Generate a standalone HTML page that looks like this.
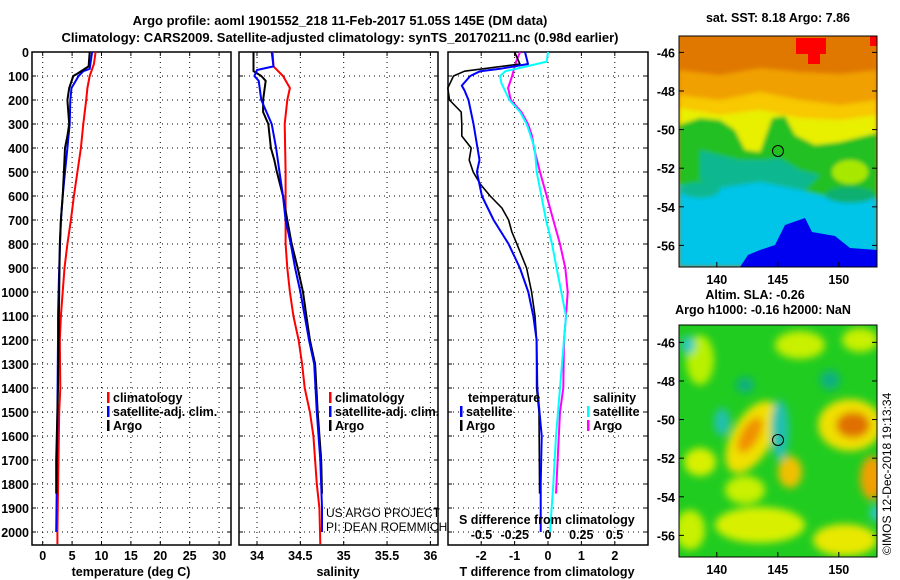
<!DOCTYPE html>
<html><head><meta charset="utf-8"><style>
body{margin:0;background:#fff}
svg{display:block;font-family:"Liberation Sans",Arial,sans-serif}
.b{font-weight:bold;font-size:13px}
.t{font-weight:bold;font-size:12.5px}
</style></head><body>
<svg id="s" width="900" height="580" viewBox="0 0 900 580">
<defs>
<filter id="bl" x="-10%" y="-10%" width="120%" height="120%"><feGaussianBlur stdDeviation="4"/></filter>
<filter id="bl2"><feGaussianBlur stdDeviation="2"/></filter>
<clipPath id="c1"><rect x="679" y="36" width="198" height="231"/></clipPath>
<clipPath id="c2"><rect x="679" y="325" width="198" height="232"/></clipPath>
</defs>
<text x="340" y="25" text-anchor="middle" class="b">Argo profile: aoml 1901552_218 11-Feb-2017 51.05S 145E (DM data)</text>
<text x="340" y="42" text-anchor="middle" class="b">Climatology: CARS2009. Satellite-adjusted climatology: synTS_20170211.nc (0.98d earlier)</text>

<!-- SST map -->
<g clip-path="url(#c1)">
<rect x="679" y="36" width="198" height="231" fill="#e07800"/>
<g filter="url(#bl2)">
<path d="M679,70 L720,75 L760,68 L800,72 L840,74 L877,70 L877,267 L679,267Z" fill="#f0a000"/>
<path d="M679,95 L720,100 L760,92 L800,100 L840,105 L877,100 L877,267 L679,267Z" fill="#f8c800"/>
<path d="M679,108 L720,115 L760,110 L800,118 L840,120 L877,115 L877,267 L679,267Z" fill="#e8f000"/>
<path d="M679,125 L700,118 L720,120 L735,130 L745,150 L760,152 L772,118 L785,116 L795,135 L815,145 L840,142 L877,133 L877,267 L679,267Z" fill="#20c020"/>
<ellipse cx="850" cy="172" rx="18" ry="12" fill="#a8e800"/>
<path d="M700,150 L740,160 L760,160 L780,158 L800,170 L820,175 L800,195 L740,195 L700,180Z" fill="#10b890"/>
<path d="M679,185 L720,188 L760,182 L800,190 L840,200 L877,198 L877,267 L679,267Z" fill="#00c4e8"/>
<ellipse cx="700" cy="190" rx="20" ry="8" fill="#10b890"/>
<ellipse cx="850" cy="195" rx="25" ry="8" fill="#10b070"/>
</g>
<path d="M740,267 L748,255 L760,250 L775,245 L785,225 L805,218 L812,232 L835,236 L850,248 L877,250 L877,267Z" fill="#0000f0"/>
<rect x="796" y="38" width="30" height="16" fill="#ff0000"/><rect x="808" y="50" width="12" height="14" fill="#ff0000"/><rect x="870" y="36" width="7" height="10" fill="#ff0000"/>
</g>
<rect x="679" y="36" width="198" height="231" fill="none" stroke="#000"/>
<circle cx="778" cy="151" r="5.5" fill="none" stroke="#000"/>
<text x="778" y="22" text-anchor="middle" class="t">sat. SST: 8.18 Argo: 7.86</text>

<!-- SLA map -->
<g clip-path="url(#c2)">
<rect x="679" y="325" width="198" height="232" fill="#20cc20"/>
<g filter="url(#bl)">
<ellipse cx="700" cy="360" rx="14" ry="25" fill="#b8f000"/>
<ellipse cx="800" cy="345" rx="25" ry="14" fill="#c8f000"/>
<ellipse cx="860" cy="340" rx="18" ry="12" fill="#c8f000"/>
<ellipse cx="752" cy="437" rx="20" ry="40" fill="#f0e000" transform="rotate(30 752 437)"/>
<ellipse cx="750" cy="435" rx="9" ry="20" fill="#f09000" transform="rotate(30 750 435)"/>
<ellipse cx="850" cy="425" rx="32" ry="26" fill="#f0e000"/>
<ellipse cx="853" cy="425" rx="17" ry="13" fill="#e07000"/>
<ellipse cx="780" cy="430" rx="9" ry="30" fill="#20c0b0"/>
<ellipse cx="722" cy="422" rx="8" ry="14" fill="#20c0b0"/>
<ellipse cx="688" cy="345" rx="7" ry="9" fill="#30c8c0"/>
<ellipse cx="745" cy="385" rx="9" ry="8" fill="#10b080"/>
<ellipse cx="830" cy="380" rx="10" ry="10" fill="#10b080"/>
<ellipse cx="700" cy="462" rx="16" ry="14" fill="#d8f000"/>
<ellipse cx="790" cy="472" rx="12" ry="16" fill="#f0c000"/>
<ellipse cx="872" cy="478" rx="12" ry="22" fill="#f0a000"/>
<ellipse cx="745" cy="490" rx="20" ry="14" fill="#c8f000"/>
<ellipse cx="760" cy="525" rx="45" ry="18" fill="#d8f000"/>
<ellipse cx="845" cy="540" rx="32" ry="16" fill="#e8e800"/>
<ellipse cx="690" cy="530" rx="15" ry="20" fill="#c8f000"/>
<ellipse cx="876" cy="513" rx="6" ry="8" fill="#30c8d0"/>
</g>
</g>
<rect x="679" y="325" width="198" height="232" fill="none" stroke="#000"/>
<circle cx="778" cy="440" r="5.5" fill="none" stroke="#000"/>
<text x="755" y="299" text-anchor="middle" class="t">Altim. SLA: -0.26</text>
<text x="763" y="314" text-anchor="middle" class="t">Argo h1000: -0.16 h2000: NaN</text>
<text transform="translate(891,555) rotate(-90)" font-size="12">©IMOS 12-Dec-2018 19:13:34</text>
<g id="g"></g>
</svg>
<script>
const depthTicks=[0,100,200,300,400,500,600,700,800,900,1000,1100,1200,1300,1400,1500,1600,1700,1800,1900,2000];
const tempTicks=[0,5,10,15,20,25,30];
const salTicks=[34,34.5,35,35.5,36];
const tdTicks=[-2,-1,0,1,2];
const sdTickLabels=["-0.5","-0.25","0","0.25","0.5"];
const sdTicks=[-0.5,-0.25,0,0.25,0.5];
const latTicks=[-46,-48,-50,-52,-54,-56];
const lonTicks=[140,145,150];
// temperature profiles [depth, value]
const tClimD=[0,50,100,150,200,300,400,500,600,700,800,900,1000,1100,1200,1400,1500,2000,2050];
const tClimV=[9.0,8.7,8.0,7.6,7.4,6.9,6.5,5.9,5.3,4.8,4.2,3.7,3.4,3.1,2.9,3.0,2.8,2.5,2.5];
const tSatD=[0,70,80,100,150,200,300,400,500,600,700,900,1100,1200,1500,1800,2000];
const tSatV=[8.4,8.0,6.9,6.1,4.9,4.7,4.6,4.2,3.8,3.4,3.1,2.8,2.6,2.6,2.5,2.4,2.3];
const tArgoD=[0,60,90,100,150,200,300,350,400,500,600,700,800,1000,1200,1400,1700,1840];
const tArgoV=[8.0,7.8,5.9,5.2,4.5,4.2,4.5,4.2,3.8,3.6,3.4,3.1,2.9,2.8,2.7,2.6,2.3,2.3];
// salinity profiles
const sClimD=[0,60,100,150,200,300,500,700,800,900,1000,1100,1200,1300,1400,1500,1600,1700,1800,1900,2050];
const sClimV=[34.18,34.19,34.30,34.38,34.35,34.32,34.33,34.33,34.33,34.35,34.38,34.42,34.48,34.52,34.55,34.61,34.65,34.67,34.69,34.72,34.73];
const sSatD=[0,60,75,100,120,200,300,400,500,600,700,800,900,1000,1100,1200,1300,1500,1700,1900,2000];
const sSatV=[34.17,34.19,34.0,33.97,34.02,34.05,34.17,34.22,34.26,34.30,34.33,34.39,34.44,34.50,34.55,34.60,34.66,34.69,34.73,34.75,34.75];
const sArgoD=[0,80,100,120,200,250,300,400,450,500,600,700,800,900,1000,1100,1200,1300,1500,1700,1840];
const sArgoV=[33.96,33.96,34.05,34.10,34.07,34.07,34.13,34.16,34.20,34.23,34.30,34.35,34.40,34.47,34.53,34.57,34.61,34.67,34.70,34.74,34.75];
// differences from climatology
const tdArgoD=[0,50,80,100,130,150,200,250,300,350,400,450,500,550,600,650,700,750,800,900,1000,1100,1200,1400,1500,1840];
const tdArgoV=[-1.0,-0.84,-2.5,-2.83,-2.93,-3.0,-2.95,-2.6,-2.58,-2.58,-2.3,-2.36,-2.24,-2.03,-1.73,-1.38,-1.18,-1.08,-0.93,-0.64,-0.49,-0.39,-0.34,-0.34,-0.27,-0.25];
const tdSatD=[0,50,70,80,100,140,160,200,300,400,450,500,600,700,800,900,1000,1100,1200,1400,1600,1800,2000];
const tdSatV=[-0.69,-0.6,-1.43,-2.03,-2.33,-2.58,-2.5,-2.38,-2.23,-2.11,-2.05,-2.13,-1.98,-1.63,-1.18,-0.84,-0.59,-0.44,-0.34,-0.32,-0.19,-0.22,-0.22];
const sdSatD=[0,40,60,80,100,130,200,250,300,400,500,600,700,800,900,1000,1100,1200,1400,1600,1800,2000];
const sdSatV=[0.0,-0.01,-0.16,-0.32,-0.36,-0.35,-0.29,-0.21,-0.16,-0.10,-0.085,-0.05,-0.015,0.03,0.065,0.10,0.135,0.12,0.09,0.06,0.04,0.015];
const sdArgoD=[0,40,100,150,200,250,300,350,400,500,600,700,800,900,1000,1100,1200,1400,1500,1840];
const sdArgoV=[-0.21,-0.24,-0.27,-0.30,-0.28,-0.20,-0.15,-0.12,-0.105,-0.06,-0.01,0.04,0.09,0.13,0.148,0.135,0.12,0.115,0.09,0.06];

const NS="http://www.w3.org/2000/svg";
const G=document.getElementById('g');
function el(tag,at,parent){const e=document.createElementNS(NS,tag);for(const k in at)e.setAttribute(k,at[k]);(parent||G).appendChild(e);return e;}
const Y0=52,Yb=545;
const yD=d=>Y0+d*0.24;
const xT=v=>42.7+v*5.88;
const xS=v=>257+(v-34)*86.7;
const xTD=v=>548+v*33.4;
const xSD=v=>548+v*133;
const panels=[[32,231],[239,438],[448,648]];
panels.forEach((p,i)=>{
  const r=el('rect',{x:p[0],y:Y0,width:p[1]-p[0],height:Yb-Y0,fill:'none',stroke:'#000','stroke-width':1.5});
  
  
  depthTicks.forEach(d=>{if(d>0){const l=el('line',{x1:p[0],x2:p[1],y1:yD(d),y2:yD(d),stroke:'#000','stroke-dasharray':'1,4'});}
    el('line',{x1:p[0],x2:p[0]+4,y1:yD(d),y2:yD(d),stroke:'#000'});el('line',{x1:p[1]-4,x2:p[1],y1:yD(d),y2:yD(d),stroke:'#000'});});
});
depthTicks.forEach(d=>{const t=el('text',{x:29,y:yD(d)+5,'text-anchor':'end',class:'t'});t.textContent=d;
  });
function xaxis(ticks,fx,p,labels){ticks.forEach((v,i)=>{const x=fx(v);
  const l=el('line',{x1:x,x2:x,y1:Y0,y2:Yb,stroke:'#000','stroke-dasharray':'1,4'});
  
  el('line',{x1:x,x2:x,y1:Yb-4,y2:Yb,stroke:'#000'});el('line',{x1:x,x2:x,y1:Y0,y2:Y0+4,stroke:'#000'});
  const t=el('text',{x:x,y:560,'text-anchor':'middle',class:'t'});t.textContent=labels?labels[i]:v;
  });}
xaxis(tempTicks,xT,panels[0]);xaxis(salTicks,xS,panels[1]);xaxis(tdTicks,xTD,panels[2]);
sdTicks.forEach((v,i)=>{const t=el('text',{x:xSD(v),y:539,'text-anchor':'middle',class:'t'});t.textContent=sdTickLabels[i];
  });
function line(D,V,fx,col,name,w){const pts=D.map((d,i)=>fx(V[i]).toFixed(1)+','+yD(d).toFixed(1)).join(' ');
  const p=el('polyline',{points:pts,fill:'none',stroke:col,'stroke-width':w||2,'stroke-linejoin':'round'});
  }
line(tClimD,tClimV,xT,'#f00','temp-climatology-line');
line(tSatD,tSatV,xT,'#00f','temp-satellite-line');
line(tArgoD,tArgoV,xT,'#000','temp-argo-line');
line(sClimD,sClimV,xS,'#f00','sal-climatology-line');
line(sArgoD,sArgoV,xS,'#000','sal-argo-line');
line(sSatD,sSatV,xS,'#00f','sal-satellite-line');
line(sdArgoD,sdArgoV,xSD,'#f0f','sdiff-argo-line');
line(sdSatD,sdSatV,xSD,'#0ff','sdiff-satellite-line');
line(tdArgoD,tdArgoV,xTD,'#000','tdiff-argo-line',1.6);
line(tdSatD,tdSatV,xTD,'#00f','tdiff-satellite-line');
function txt(x,y,s,cls,name,extra){const t=el('text',Object.assign({x:x,y:y,class:cls||'t'},extra||{}));t.textContent=s;
  return t;}
function leg(x,y,col,s,name){el('rect',{x:x,y:y-10,width:2.5,height:11,fill:col});txt(x+6,y,s,'t',name);}
leg(107,402,'#f00','climatology','legend-climatology');
leg(107,416,'#00f','satellite-adj. clim.','legend-satellite');
leg(107,430,'#000','Argo','legend-argo');
leg(329,402,'#f00','climatology','legend-sal-climatology');
leg(329,416,'#00f','satellite-adj. clim.','legend-sal-satellite');
leg(329,430,'#000','Argo','legend-sal-argo');
txt(468,402,'temperature','t','legend-temperature-header');
leg(460,416,'#00f','satellite','legend-tdiff-satellite');
leg(460,430,'#000','Argo','legend-tdiff-argo');
txt(593,402,'salinity','t','legend-salinity-header');
leg(587,416,'#0ff','satellite','legend-sdiff-satellite');
leg(587,430,'#f0f','Argo','legend-sdiff-argo');
txt(326,517,'US ARGO PROJECT','n','credit-line-1',{'font-size':12});
txt(326,531,'PI: DEAN ROEMMICH','n','credit-line-2',{'font-size':12});
txt(459,524,'S difference from climatology','t','s-diff-axis-title');
txt(131,576,'temperature (deg C)','t','temperature-axis-title',{'text-anchor':'middle'});
txt(338,576,'salinity','t','salinity-axis-title',{'text-anchor':'middle'});
txt(547,576,'T difference from climatology','t','t-diff-axis-title',{'text-anchor':'middle'});
// map axes
const mLat1=v=>36+(v+45.15)*-19.3, mLat2=v=>325+(v+45.1)*-19.3, mLon=v=>679+(v-136.9)*12.2;
[[mLat1,267],[mLat2,557]].forEach((m,k)=>{latTicks.forEach(v=>{const y=m[0](v);
  el('line',{x1:679,x2:684,y1:y,y2:y,stroke:'#000'});el('line',{x1:872,x2:877,y1:y,y2:y,stroke:'#000'});
  txt(675,y+5,v,'t','map-lat-tick-label',{'text-anchor':'end'});});
  lonTicks.forEach(v=>{const x=mLon(v);el('line',{x1:x,x2:x,y1:m[1]-5,y2:m[1],stroke:'#000'});
  txt(x,m[1]+17,v,'t','map-lon-tick-label',{'text-anchor':'middle'});});});
</script>
</body></html>
